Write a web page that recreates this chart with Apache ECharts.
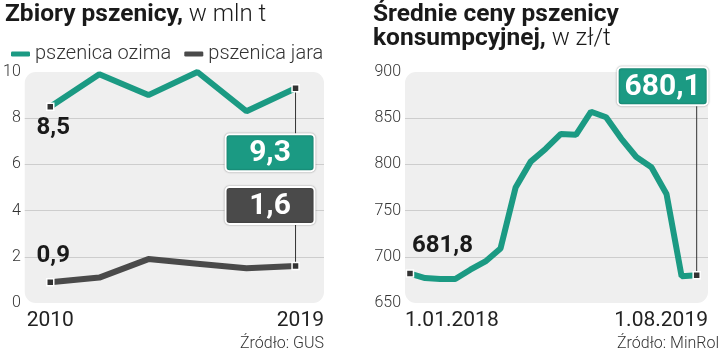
<!DOCTYPE html>
<html>
<head>
<meta charset="utf-8">
<script src="https://cdn.jsdelivr.net/npm/echarts@6/dist/echarts.min.js"></script>
<style>
  html, body { margin: 0; padding: 0; background: #fff; }
  #main { width: 720px; height: 353px; }
</style>
</head>
<body>
<div id="main"></div>
<script>
// zbiory pszenicy, mln t
var ozima = [8.5, 9.9, 9.0, 10.0, 8.3, 9.3];
var jara = [0.9, 1.1, 1.9, 1.7, 1.5, 1.6];
var lata = ['2010', '2019'];
// srednie ceny pszenicy konsumpcyjnej, zl/t (miesiecznie)
var ceny = [681.8, 677, 676, 676, 686, 695, 709, 775, 803, 817, 833, 832, 857, 851, 828, 808, 797, 768, 679, 680.1];
var daty = ['1.01.2018', '1.08.2019'];

var teal = '#1b9a83';
var dark = '#4a4a4a';
var font = 'Roboto';

function pts(arr) {
  return arr.map(function (v, i) {
    var item = { value: [i, v] };
    if (i === 0 || i === arr.length - 1) {
      item.symbol = 'rect';
      item.symbolSize = 7;
      item.itemStyle = { color: '#333', borderColor: '#fff', borderWidth: 1.5 };
    }
    return item;
  });
}
function fmt(v) {
  return v.toFixed(1).replace('.', ',');
}

var xL = { min: -0.52, max: 5.58 };
var xR = { min: -0.33, max: 19.75 };

var myChart = echarts.init(document.getElementById('main'));
var option = {
  animation: false,
  legend: {
    data: ['pszenica ozima', 'pszenica jara'],
    left: 6,
    top: 39,
    icon: 'roundRect',
    itemWidth: 19,
    itemHeight: 5,
    itemGap: 13,
    textStyle: { fontSize: 20, color: '#333', fontWeight: 300, fontFamily: font }
  },
  grid: [
    { left: 22, top: 72, width: 302, height: 231 },
    { left: 405, top: 72, width: 303, height: 231 }
  ],
  xAxis: [
    {
      type: 'value', gridIndex: 0, min: xL.min, max: xL.max,
      axisLine: { show: false }, axisTick: { show: false }, splitLine: { show: false },
      axisLabel: {
        customValues: [0, xL.max],
        alignMinLabel: 'center', alignMaxLabel: 'right',
        formatter: function (v) { return v <= 0 ? lata[0] : lata[1]; },
        fontSize: 21, color: '#222', fontFamily: font, margin: 7
      }
    },
    {
      type: 'value', gridIndex: 1, min: xR.min, max: xR.max,
      axisLine: { show: false }, axisTick: { show: false }, splitLine: { show: false },
      axisLabel: {
        customValues: [xR.min, xR.max],
        alignMinLabel: 'left', alignMaxLabel: 'right',
        formatter: function (v) { return v <= 0 ? daty[0] : daty[1]; },
        fontSize: 21, color: '#222', fontFamily: font, margin: 7
      }
    }
  ],
  yAxis: [
    {
      type: 'value', gridIndex: 0, min: 0, max: 10, interval: 2,
      axisLine: { show: false }, axisTick: { show: false },
      splitLine: { showMinLine: false, showMaxLine: false, lineStyle: { color: '#cdcdcd' } },
      axisLabel: { fontSize: 16, color: '#333', fontFamily: font, fontWeight: 300, margin: 4 }
    },
    {
      type: 'value', gridIndex: 1, min: 650, max: 900, interval: 50,
      axisLine: { show: false }, axisTick: { show: false },
      splitLine: { showMinLine: false, showMaxLine: false, lineStyle: { color: '#cdcdcd' } },
      axisLabel: { fontSize: 16, color: '#333', fontFamily: font, fontWeight: 300, margin: 4 }
    }
  ],
  series: [
    {
      name: 'pszenica ozima', type: 'line', xAxisIndex: 0, yAxisIndex: 0,
      data: pts(ozima), symbol: 'none', showSymbol: true,
      itemStyle: { color: teal }, lineStyle: { color: teal, width: 6 },
      emphasis: { disabled: true }, z: 3
    },
    {
      name: 'pszenica jara', type: 'line', xAxisIndex: 0, yAxisIndex: 0,
      data: pts(jara), symbol: 'none', showSymbol: true,
      itemStyle: { color: dark }, lineStyle: { color: dark, width: 6 },
      emphasis: { disabled: true }, z: 3
    },
    {
      name: 'ceny', type: 'line', xAxisIndex: 1, yAxisIndex: 1,
      data: pts(ceny), symbol: 'none', showSymbol: true,
      itemStyle: { color: teal }, lineStyle: { color: teal, width: 6 },
      emphasis: { disabled: true }, z: 3
    }
  ]
};
myChart.setOption(option);

function px(g, i, v) {
  return myChart.convertToPixel({ gridIndex: g }, [i, v]);
}

var g = [];
// tla wykresow (zaokraglone)
[[0, xL], [1, xR]].forEach(function (a, k) {
  var p0 = px(a[0], a[1].min, k === 0 ? 10 : 900);
  var p1 = px(a[0], a[1].max, k === 0 ? 0 : 650);
  g.push({ type: 'rect', z: -5, shape: { x: p0[0], y: p0[1], width: p1[0] - p0[0], height: p1[1] - p0[1], r: 11 }, style: { fill: '#efefef' } });
});

// tytuly
function title(x, y, bold, rest) {
  g.push({
    type: 'text', x: x, y: y,
    style: {
      text: '{b|' + bold + '}' + (rest ? '{r|' + rest + '}' : ''),
      verticalAlign: 'middle',
      rich: {
        b: { font: 'bold 24.5px ' + font, fill: '#1a1a1a' },
        r: { font: '300 24px ' + font, fill: '#1a1a1a' }
      }
    }
  });
}
title(5, 15, 'Zbiory pszenicy,', ' w mln t');
title(373, 14.5, 'Średnie ceny pszenicy', '');
title(373, 38.5, 'konsumpcyjnej,', ' w zł/t');

// zrodla
g.push({ type: 'text', x: 324, y: 344, style: { text: 'Źródło: GUS', font: '300 16px ' + font, fill: '#333', align: 'right', verticalAlign: 'middle' } });
g.push({ type: 'text', x: 617, y: 344, style: { text: 'Źródło: MinRol', font: '300 16px ' + font, fill: '#333', align: 'left', verticalAlign: 'middle' } });

// etykiety poczatkowe
var a = px(0, 0, ozima[0]);
g.push({ type: 'text', x: a[0] + 3, y: a[1] + 21, style: { text: fmt(ozima[0]), font: 'bold 24px ' + font, fill: '#1a1a1a', align: 'center', verticalAlign: 'middle' } });
a = px(0, 0, jara[0]);
g.push({ type: 'text', x: a[0] + 3, y: a[1] - 26, style: { text: fmt(jara[0]), font: 'bold 24px ' + font, fill: '#1a1a1a', align: 'center', verticalAlign: 'middle' } });
a = px(1, 0, ceny[0]);
g.push({ type: 'text', x: a[0] + 2, y: a[1] - 28, style: { text: fmt(ceny[0]), font: 'bold 24px ' + font, fill: '#1a1a1a', align: 'left', verticalAlign: 'middle' } });

// ramki z ostatnimi wartosciami
function box(p, bx, by, w, h, color, value, lineEndY) {
  g.push({ type: 'line', z: 1, shape: { x1: p[0], y1: p[1], x2: p[0], y2: lineEndY }, style: { stroke: '#333', lineWidth: 1 } });
  g.push({
    type: 'rect', z: 10,
    shape: { x: bx, y: by, width: w, height: h, r: 4 },
    style: { fill: color, stroke: '#fff', lineWidth: 2, shadowBlur: 2, shadowColor: 'rgba(0,0,0,0.35)' }
  });
  g.push({
    type: 'text', z: 11, x: bx + w / 2, y: by + h / 2 + 1,
    style: { text: fmt(value), font: 'bold 30px ' + font, fill: '#fff', align: 'center', verticalAlign: 'middle' }
  });
}
var n = ozima.length - 1;
var p = px(0, n, ozima[n]);
box(p, p[0] - 70, p[1] + 46, 89, 37, teal, ozima[n], p[1] + 46);
p = px(0, n, jara[n]);
box(p, p[0] - 70, p[1] - 79, 89, 37, dark, jara[n], p[1] - 42);
n = ceny.length - 1;
p = px(1, n, ceny[n]);
box(p, p[0] - 79, p[1] - 208, 90, 38, teal, ceny[n], p[1] - 170);

myChart.setOption({ graphic: g });
</script>
</body>
</html>
